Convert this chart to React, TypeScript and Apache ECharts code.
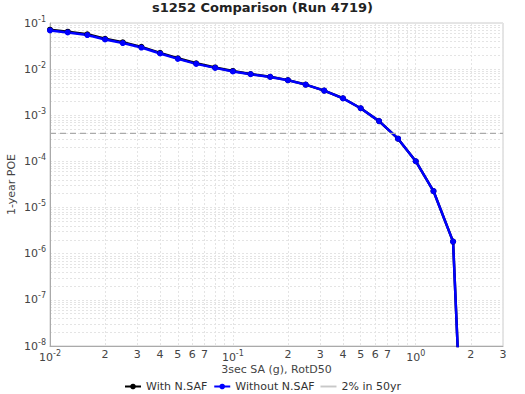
import React, { useEffect, useRef } from "react";
import * as echarts from "echarts";

// Spectral acceleration levels (g)
const xValues = [
  0.01, 0.0125, 0.016, 0.02, 0.025, 0.0316, 0.04, 0.05, 0.063, 0.08, 0.1, 0.125,
  0.16, 0.2, 0.25, 0.316, 0.4, 0.5, 0.63, 0.8, 1.0, 1.25, 1.6, 2.0,
];
// 1-year probability of exceedance
const withNSAF = [
  0.0715, 0.0648, 0.0568, 0.0456, 0.0381, 0.0304, 0.0225, 0.0172, 0.0134, 0.0109,
  0.00915, 0.00785, 0.00684, 0.00578, 0.00463, 0.00343, 0.00234, 0.00142, 7.48e-4,
  3.11e-4, 1.01e-4, 2.28e-5, 1.83e-6, 2.5e-15,
];
const withoutNSAF = [
  0.069, 0.0624, 0.0548, 0.044, 0.0367, 0.0294, 0.0218, 0.0167, 0.013, 0.01065,
  0.00893, 0.00777, 0.00679, 0.00575, 0.00461, 0.00342, 0.00233, 0.00142, 7.48e-4,
  3.11e-4, 1.01e-4, 2.28e-5, 1.83e-6, 2.5e-15,
];
const twoPctIn50yr = 4.04e-4;

const xRange = [0.01, 3];
const yRange = [1e-8, 1e-1];
const xTickValues = [
  0.01, 0.02, 0.03, 0.04, 0.05, 0.06, 0.07, 0.08, 0.09,
  0.1, 0.2, 0.3, 0.4, 0.5, 0.6, 0.7, 0.8, 0.9,
  1, 2, 3,
];
const xLabelValues = [0.01, 0.02, 0.03, 0.04, 0.05, 0.06, 0.07, 0.1, 0.2, 0.3, 0.4, 0.5, 0.6, 0.7, 1, 2, 3];
const yLabelValues = [1e-8, 1e-7, 1e-6, 1e-5, 1e-4, 1e-3, 1e-2, 1e-1];
const yGridValues: number[] = [];
for (let e = -8; e < -1; e++) {
  for (let m = 1; m <= 9; m++) yGridValues.push(m * Math.pow(10, e));
}
yGridValues.push(1e-1);

const L = (v: number) => Math.log10(v);
const FONT = "DejaVu Sans";

const fmt = (v: number) => {
  const e = Math.round(v);
  if (Math.abs(v - e) < 1e-6) return `{b|10}{s|${e}}`;
  const m = Math.round(Math.pow(10, v - Math.floor(v + 1e-9)));
  return `{b|${m}}`;
};

const rich = {
  b: { fontFamily: FONT, fontSize: 11, color: "#444" },
  s: { fontFamily: FONT, fontSize: 8, color: "#444", verticalAlign: "top", padding: [0, 0, 8, 0] },
};

export default function App() {
  const ref = useRef<HTMLDivElement>(null);
  useEffect(() => {
    if (!ref.current) return;
    document.body.style.margin = "0";
    const chart = echarts.init(ref.current, null, { renderer: "svg" });
    const toPts = (ys: number[]) => xValues.map((x, i) => [L(x), L(ys[i])]);
    chart.setOption({
      animation: false,
      textStyle: { fontFamily: FONT },
      title: {
        text: "s1252 Comparison (Run 4719)",
        left: "center",
        top: -4,
        textStyle: { fontFamily: FONT, fontSize: 13, fontWeight: "bold", color: "#222" },
      },
      grid: {
        left: 50, right: 22, top: 23, bottom: 48,
        show: true, borderColor: "#ccc", borderWidth: 1,
        containLabel: false, outerBoundsMode: "none",
      },
      legend: {
        top: 376,
        left: "center",
        itemWidth: 16,
        itemHeight: 7,
        itemGap: 6,
        textStyle: { fontFamily: FONT, fontSize: 11, color: "#333" },
        data: [
          "With N.SAF",
          "Without N.SAF",
          { name: "2% in 50yr", icon: "path://M0,0h10v1.2h-10z", itemStyle: { color: "#c8c8c8" } },
        ],
      },
      xAxis: {
        type: "value",
        min: L(xRange[0]),
        max: L(xRange[1]),
        name: "3sec SA (g), RotD50",
        nameLocation: "middle",
        nameGap: 18,
        nameMoveOverlap: false,
        nameTextStyle: { fontFamily: FONT, fontSize: 11, color: "#444" },
        axisLine: { show: true, onZero: false, lineStyle: { color: "#aaa" } },
        axisTick: { show: false, customValues: xTickValues.map(L) },
        axisLabel: { customValues: xLabelValues.map(L), formatter: fmt, rich, margin: 3 },
        splitLine: { show: true, lineStyle: { color: "#e4e4e4", type: [2, 2], width: 1 } },
      },
      yAxis: {
        type: "value",
        min: L(yRange[0]),
        max: L(yRange[1]),
        name: "1-year POE",
        nameLocation: "middle",
        nameGap: 33,
        nameMoveOverlap: false,
        nameTextStyle: { fontFamily: FONT, fontSize: 11, color: "#444" },
        axisLine: { show: true, onZero: false, lineStyle: { color: "#aaa" } },
        axisTick: { show: false, customValues: yGridValues.map(L) },
        axisLabel: { customValues: yLabelValues.map(L), formatter: fmt, rich, margin: 4 },
        splitLine: { show: true, lineStyle: { color: "#e4e4e4", type: [2, 2], width: 1 } },
      },
      series: [
        {
          name: "With N.SAF",
          type: "line",
          data: toPts(withNSAF),
          color: "#000000",
          symbol: "circle",
          symbolSize: 6,
          lineStyle: { width: 2.5, color: "#000000" },
          itemStyle: { color: "#000000" },
        },
        {
          name: "Without N.SAF",
          type: "line",
          data: toPts(withoutNSAF),
          color: "#0000ff",
          symbol: "circle",
          symbolSize: 6,
          lineStyle: { width: 2.5, color: "#0000ff" },
          itemStyle: { color: "#0000ff" },
        },
        {
          name: "2% in 50yr",
          type: "line",
          data: [[L(xRange[0]), L(twoPctIn50yr)], [L(xRange[1]), L(twoPctIn50yr)]],
          color: "#aaaaaa",
          symbol: "none",
          lineStyle: { width: 1.2, color: "#aaaaaa", type: [6, 4] },
        },
      ],
    });
    return () => chart.dispose();
  }, []);
  return <div ref={ref} style={{ width: 525, height: 394 }} />;
}
